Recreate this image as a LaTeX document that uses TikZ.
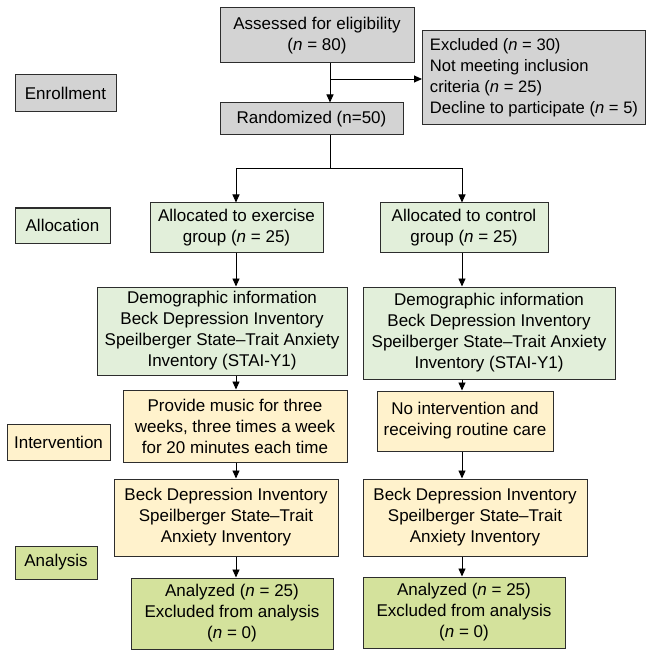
\documentclass[tikz,border=0pt]{standalone}
\usepackage{fontspec}
\setmainfont{Liberation Sans}
\usetikzlibrary{arrows.meta}
\definecolor{boxgray}{RGB}{211,211,211}
\definecolor{boxgreen}{RGB}{226,239,218}
\definecolor{boxyellow}{RGB}{255,242,204}
\definecolor{boxolive}{RGB}{212,226,156}
\definecolor{edge}{RGB}{45,45,45}
\begin{document}
\begin{tikzpicture}[x=1pt,y=-1pt,
  every node/.style={font=\fontsize{17}{21}\selectfont},
  box/.style={draw=edge,line width=1pt,align=center,inner sep=2pt,
    minimum width=#1},
  gbox/.style={box=#1,fill=boxgray},
  lbox/.style={box=#1,fill=boxgreen},
  ybox/.style={box=#1,fill=boxyellow},
  obox/.style={box=#1,fill=boxolive},
  arr/.style={draw=black,line width=0.9pt,-{Triangle[length=8pt,width=7pt]}},
  ln/.style={draw=black,line width=0.9pt}]
\useasboundingbox (0,0) rectangle (648,652);
% enrollment
\node[gbox=194pt,minimum height=55pt] (assess) at (317,35.5) {Assessed for eligibility\\(\emph{n} = 80)};
\node[gbox=223pt,minimum height=94pt,align=left,inner xsep=4pt,anchor=west,
  font=\fontsize{16.6}{21}\selectfont] (excl) at (422,78)
  {Excluded (\emph{n} = 30)\\Not meeting inclusion\\criteria (\emph{n} = 25)\\Decline to participate (\emph{n} = 5)};
\node[gbox=183pt,minimum height=32pt] (rand) at (311.5,119) {Randomized (n=50)};
\node[gbox=101pt,minimum height=37pt] (enroll) at (65.5,93.5) {Enrollment};
% allocation
\node[lbox=95pt,minimum height=35pt] (alloclab) at (62.5,225.5) {Allocation};
\node[lbox=173pt,minimum height=49pt] (allocE) at (236.5,227.5) {Allocated to exercise\\group (\emph{n} = 25)};
\node[lbox=168pt,minimum height=49pt] (allocC) at (464,227.5) {Allocated to control\\group (\emph{n} = 25)};
\node[lbox=250pt,minimum height=88pt] (demoL) at (222,331) {Demographic information\\Beck Depression Inventory\\Speilberger State–Trait Anxiety\\Inventory (STAI-Y1)};
\node[lbox=252pt,minimum height=92pt] (demoR) at (489,333) {Demographic information\\Beck Depression Inventory\\Speilberger State–Trait Anxiety\\Inventory (STAI-Y1)};
% intervention
\node[ybox=103pt,minimum height=36pt] (intlab) at (58.5,442) {Intervention};
\node[ybox=224pt,minimum height=72pt] (intL) at (235,426) {Provide music for three\\weeks, three times a week\\for 20 minutes each time};
\node[ybox=176pt,minimum height=60pt] (intR) at (465,421) {No intervention and\\receiving routine care};
\node[ybox=224pt,minimum height=77pt] (beckL) at (226,517.5) {Beck Depression Inventory\\Speilberger State–Trait\\Anxiety Inventory};
\node[ybox=224pt,minimum height=77pt] (beckR) at (475,517.5) {Beck Depression Inventory\\Speilberger State–Trait\\Anxiety Inventory};
% analysis
\node[obox=82pt,minimum height=33pt] (analab) at (56,562.5) {Analysis};
\node[obox=202pt,minimum height=71pt] (anaL) at (232,613.5) {Analyzed (\emph{n} = 25)\\Excluded from analysis\\(\emph{n} = 0)};
\node[obox=202pt,minimum height=71pt] (anaR) at (464,612.5) {Analyzed (\emph{n} = 25)\\Excluded from analysis\\(\emph{n} = 0)};
% connectors
\coordinate (T) at (330,0);
\coordinate (L) at (236,0);
\coordinate (R) at (462,0);
\coordinate (split) at (330,168);
\coordinate (bend) at (330,79);
\draw[arr] (assess.south -| T) -- (rand.north -| T);
\draw[arr] (bend) -- (bend -| excl.west);
\draw[ln] (rand.south -| T) -- (split);
\draw[arr] (split) -| (allocE.north -| L);
\draw[arr] (split) -| (allocC.north -| R);
\draw[arr] (allocE.south -| L) -- (demoL.north -| L);
\draw[arr] (allocC.south -| R) -- (demoR.north -| R);
\draw[arr] (demoL.south -| L) -- (intL.north -| L);
\draw[arr] (demoR.south -| R) -- (intR.north -| R);
\draw[arr] (intL.south -| L) -- (beckL.north -| L);
\draw[arr] (intR.south -| R) -- (beckR.north -| R);
\draw[arr] (beckL.south -| L) -- (anaL.north -| L);
\draw[arr] (beckR.south -| R) -- (anaR.north -| R);
\end{tikzpicture}
\end{document}
